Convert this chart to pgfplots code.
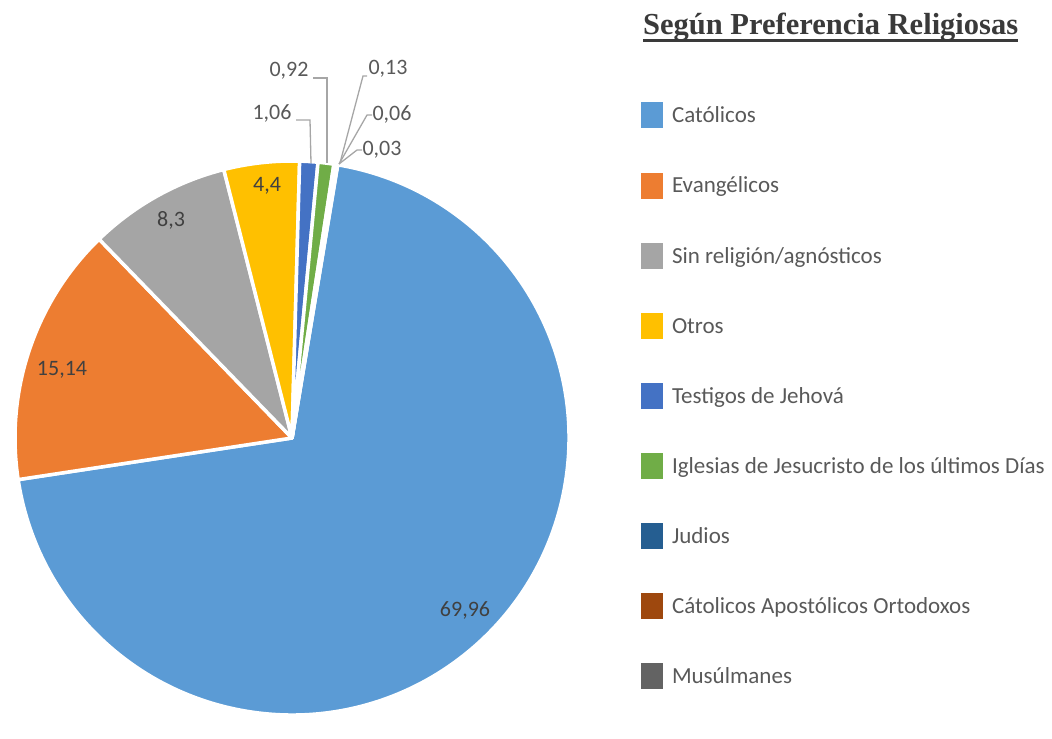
\documentclass[border=0pt]{standalone}
\usepackage{pgfplots}
\usepackage{pgfplotstable}
\pgfplotsset{compat=1.18}
\usepackage{fontspec}
\setmainfont{Carlito}
\newfontfamily\titlefont{Liberation Serif}

\definecolor{cCat}{HTML}{5B9BD5}
\definecolor{cEva}{HTML}{ED7D31}
\definecolor{cSin}{HTML}{A5A5A5}
\definecolor{cOtr}{HTML}{FFC000}
\definecolor{cTes}{HTML}{4472C4}
\definecolor{cIgl}{HTML}{70AD47}
\definecolor{cJud}{HTML}{255E91}
\definecolor{cOrt}{HTML}{9E480E}
\definecolor{cMus}{HTML}{636363}
\definecolor{legtext}{HTML}{595959}
\definecolor{intext}{HTML}{404040}
\definecolor{titlecol}{HTML}{3A3A3A}
\definecolor{leader}{HTML}{A6A6A6}

% porcentaje, color, etiqueta, posicion de la etiqueta (px desde arriba)
\pgfplotstableread{
val   col  lab    lx   ly   lc
69.96 cCat 69,96  465  610  intext
15.14 cEva 15,14  62   370  intext
8.3   cSin 8,3    171  220  intext
4.4   cOtr 4,4    267  186  intext
1.06  cTes 1,06   272  113  legtext
0.92  cIgl 0,92   289  71   legtext
0.13  cJud 0,13   388  69   legtext
0.06  cOrt 0,06   392  114  legtext
0.03  cMus 0,03   382  150  legtext
}\piedata

\begin{document}
\begin{tikzpicture}
\begin{axis}[
  scale only axis, width=1052pt, height=722pt,
  xmin=0, xmax=1052, ymin=0, ymax=722,
  hide axis, clip=false,
  legend cell align=left,
  legend image code/.code={\fill[#1] (0pt,-13pt) rectangle (22pt,13pt);},
  legend style={at={(axis cs:641,620)}, anchor=north west,
    draw=none, fill=none, inner sep=0pt, outer sep=0pt, row sep=43.3pt,
    font=\fontsize{23}{27}\selectfont, text=legtext,
    nodes={inner sep=0pt, anchor=west, text height=20.8pt, text depth=6pt},
    /tikz/every odd column/.append style={column sep=9pt}},
]
\path (axis cs:0,0) rectangle (axis cs:1052,722);

% sectores, en sentido horario desde 80.5 grados
\def\angA{80.5}
\pgfplotsforeachungrouped \i in {0,...,8}{%
  \pgfplotstablegetelem{\i}{val}\of\piedata \let\v\pgfplotsretval
  \pgfplotstablegetelem{\i}{col}\of\piedata \let\c\pgfplotsretval
  \pgfmathsetmacro\angB{\angA-3.6*\v}%
  \edef\temp{\noexpand\fill[\c, draw=white, line width=3.5pt, line join=round]
    (axis cs:292,284) -- ++(\angA:277pt)
    arc[start angle=\angA, end angle=\angB, radius=277pt] -- cycle;}%
  \temp
  \let\angA\angB
}

% etiquetas de datos
\pgfplotsforeachungrouped \i in {0,...,8}{%
  \pgfplotstablegetelem{\i}{lab}\of\piedata \let\l\pgfplotsretval
  \pgfplotstablegetelem{\i}{lx}\of\piedata \let\lx\pgfplotsretval
  \pgfplotstablegetelem{\i}{ly}\of\piedata \let\ly\pgfplotsretval
  \pgfplotstablegetelem{\i}{lc}\of\piedata \let\lc\pgfplotsretval
  \pgfmathsetmacro\lyy{722-\ly}%
  \edef\temp{\noexpand\node[text=\lc, font=\noexpand\fontsize{22}{26}\noexpand\selectfont, inner sep=0pt]
    at (axis cs:\lx,\lyy) {\l};}%
  \temp
}

% lineas guia
\draw[leader, line width=1.3pt] (axis cs:296,602) -- (axis cs:310,602) -- (axis cs:311,559);
\draw[leader, line width=1.3pt] (axis cs:313,644) -- (axis cs:327,644) -- (axis cs:327,559);
\draw[leader, line width=1.3pt] (axis cs:367,646) -- (axis cs:363,646) -- (axis cs:340,559);
\draw[leader, line width=1.3pt] (axis cs:372,607) -- (axis cs:367,607) -- (axis cs:339,558);
\draw[leader, line width=1.3pt] (axis cs:362,572) -- (axis cs:357,572) -- (axis cs:339,558);

% titulo
\node[anchor=base west, inner sep=0pt, text=titlecol,
  font=\titlefont\bfseries\fontsize{30.5}{34}\selectfont] (t) at (axis cs:643,687)
  {Según Preferencia Religiosas};
\draw[titlecol, line width=2.5pt] ([yshift=-5.5pt]t.base west) -- ([yshift=-5.5pt]t.base east);

\addlegendimage{fill=cCat, draw=none}\addlegendentry{Católicos}
\addlegendimage{fill=cEva, draw=none}\addlegendentry{Evangélicos}
\addlegendimage{fill=cSin, draw=none}\addlegendentry{Sin religión/agnósticos}
\addlegendimage{fill=cOtr, draw=none}\addlegendentry{Otros}
\addlegendimage{fill=cTes, draw=none}\addlegendentry{Testigos de Jehová}
\addlegendimage{fill=cIgl, draw=none}\addlegendentry{Iglesias de Jesucristo de los últimos Días}
\addlegendimage{fill=cJud, draw=none}\addlegendentry{Judios}
\addlegendimage{fill=cOrt, draw=none}\addlegendentry{Cátolicos Apostólicos Ortodoxos}
\addlegendimage{fill=cMus, draw=none}\addlegendentry{Musúlmanes}
\end{axis}
\end{tikzpicture}
\end{document}
